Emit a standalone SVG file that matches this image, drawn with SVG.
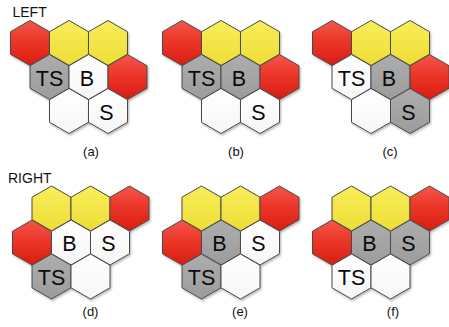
<svg xmlns="http://www.w3.org/2000/svg" xmlns:xlink="http://www.w3.org/1999/xlink" width="449" height="327" viewBox="0 0 449 327">
<style>
.hx{stroke:#4a4a4a;stroke-width:1;stroke-linejoin:round;filter:url(#sh)}
.r{fill:url(#gr)}
.y{fill:url(#gy)}
.g{fill:url(#gg)}
.w{fill:url(#gw)}
.t{font-family:"Liberation Sans",Arial,sans-serif;font-size:21.5px;fill:#0a0a0a;text-anchor:middle}
.h{font-family:"Liberation Sans",Arial,sans-serif;font-size:14px;fill:#111}
.c{font-family:"Liberation Sans",Arial,sans-serif;font-size:13px;fill:#111;text-anchor:middle}
</style>
<defs>
<polygon id="hex" points="0,-22.5 19.5,-11.25 19.5,11.25 0,22.5 -19.5,11.25 -19.5,-11.25"/>
<linearGradient id="gr" x1="0" y1="0" x2="0" y2="1"><stop offset="0" stop-color="#f4564a"/><stop offset="0.5" stop-color="#ea3426"/><stop offset="1" stop-color="#da1c12"/></linearGradient>
<linearGradient id="gy" x1="0" y1="0" x2="0" y2="1"><stop offset="0" stop-color="#f8ee5a"/><stop offset="1" stop-color="#eedd36"/></linearGradient>
<linearGradient id="gg" x1="0" y1="0" x2="0" y2="1"><stop offset="0" stop-color="#adadad"/><stop offset="1" stop-color="#9c9c9c"/></linearGradient>
<linearGradient id="gw" x1="0" y1="0" x2="0" y2="1"><stop offset="0" stop-color="#ffffff"/><stop offset="1" stop-color="#f6f6f6"/></linearGradient>
<filter id="sh" x="-20%" y="-20%" width="150%" height="150%"><feDropShadow dx="1" dy="1.5" stdDeviation="1.2" flood-color="#000" flood-opacity="0.3"/></filter>
</defs>
<rect width="449" height="327" fill="#fff"/>
<text class="h" x="12.5" y="17">LEFT</text>
<text class="h" x="8" y="182.5">RIGHT</text>

<g id="panel-a">
<g id="a-r1"><use href="#hex" class="hx r" x="30" y="43"/></g>
<g id="a-y1"><use href="#hex" class="hx y" x="69" y="43"/></g>
<g id="a-y2"><use href="#hex" class="hx y" x="108" y="43"/></g>
<g id="a-ts"><use href="#hex" class="hx g" x="49.5" y="77"/><text class="t" x="49.5" y="85.5">TS</text></g>
<g id="a-b"><use href="#hex" class="hx w" x="88.5" y="77"/><text class="t" x="87" y="85.5">B</text></g>
<g id="a-r2"><use href="#hex" class="hx r" x="127.5" y="77"/></g>
<g id="a-e"><use href="#hex" class="hx w" x="69" y="111"/></g>
<g id="a-s"><use href="#hex" class="hx w" x="108" y="111"/><text class="t" x="106.5" y="119.5">S</text></g>
<text class="c" x="91" y="155.5">(a)</text>
</g>

<g id="panel-b">
<g id="b-r1"><use href="#hex" class="hx r" x="182" y="43"/></g>
<g id="b-y1"><use href="#hex" class="hx y" x="221" y="43"/></g>
<g id="b-y2"><use href="#hex" class="hx y" x="260" y="43"/></g>
<g id="b-ts"><use href="#hex" class="hx g" x="201.5" y="77"/><text class="t" x="201.5" y="85.5">TS</text></g>
<g id="b-b"><use href="#hex" class="hx g" x="240.5" y="77"/><text class="t" x="239" y="85.5">B</text></g>
<g id="b-r2"><use href="#hex" class="hx r" x="279.5" y="77"/></g>
<g id="b-e"><use href="#hex" class="hx w" x="221" y="111"/></g>
<g id="b-s"><use href="#hex" class="hx w" x="260" y="111"/><text class="t" x="258.5" y="119.5">S</text></g>
<text class="c" x="236" y="155.5">(b)</text>
</g>

<g id="panel-c">
<g id="c-r1"><use href="#hex" class="hx r" x="332" y="43"/></g>
<g id="c-y1"><use href="#hex" class="hx y" x="371" y="43"/></g>
<g id="c-y2"><use href="#hex" class="hx y" x="410" y="43"/></g>
<g id="c-ts"><use href="#hex" class="hx w" x="351.5" y="77"/><text class="t" x="351.5" y="85.5">TS</text></g>
<g id="c-b"><use href="#hex" class="hx g" x="390.5" y="77"/><text class="t" x="389" y="85.5">B</text></g>
<g id="c-r2"><use href="#hex" class="hx r" x="429.5" y="77"/></g>
<g id="c-e"><use href="#hex" class="hx w" x="371" y="111"/></g>
<g id="c-s"><use href="#hex" class="hx g" x="410" y="111"/><text class="t" x="408.5" y="119.5">S</text></g>
<text class="c" x="390" y="155.5">(c)</text>
</g>

<g id="panel-d">
<g id="d-y1"><use href="#hex" class="hx y" x="51.5" y="208.5"/></g>
<g id="d-y2"><use href="#hex" class="hx y" x="90.5" y="208.5"/></g>
<g id="d-r1"><use href="#hex" class="hx r" x="129.5" y="208.5"/></g>
<g id="d-r2"><use href="#hex" class="hx r" x="32" y="242.5"/></g>
<g id="d-b"><use href="#hex" class="hx w" x="71" y="242.5"/><text class="t" x="69.5" y="251">B</text></g>
<g id="d-s"><use href="#hex" class="hx w" x="110" y="242.5"/><text class="t" x="108.5" y="251">S</text></g>
<g id="d-ts"><use href="#hex" class="hx g" x="51.5" y="276.5"/><text class="t" x="51.5" y="285">TS</text></g>
<g id="d-e"><use href="#hex" class="hx w" x="90.5" y="276.5"/></g>
<text class="c" x="90.5" y="315.5">(d)</text>
</g>

<g id="panel-e">
<g id="e-y1"><use href="#hex" class="hx y" x="201.5" y="208.5"/></g>
<g id="e-y2"><use href="#hex" class="hx y" x="240.5" y="208.5"/></g>
<g id="e-r1"><use href="#hex" class="hx r" x="279.5" y="208.5"/></g>
<g id="e-r2"><use href="#hex" class="hx r" x="182" y="242.5"/></g>
<g id="e-b"><use href="#hex" class="hx g" x="221" y="242.5"/><text class="t" x="219.5" y="251">B</text></g>
<g id="e-s"><use href="#hex" class="hx w" x="260" y="242.5"/><text class="t" x="258.5" y="251">S</text></g>
<g id="e-ts"><use href="#hex" class="hx g" x="201.5" y="276.5"/><text class="t" x="201.5" y="285">TS</text></g>
<g id="e-e"><use href="#hex" class="hx w" x="240.5" y="276.5"/></g>
<text class="c" x="240" y="315.5">(e)</text>
</g>

<g id="panel-f">
<g id="f-y1"><use href="#hex" class="hx y" x="351.5" y="208.5"/></g>
<g id="f-y2"><use href="#hex" class="hx y" x="390.5" y="208.5"/></g>
<g id="f-r1"><use href="#hex" class="hx r" x="429.5" y="208.5"/></g>
<g id="f-r2"><use href="#hex" class="hx r" x="332" y="242.5"/></g>
<g id="f-b"><use href="#hex" class="hx g" x="371" y="242.5"/><text class="t" x="369.5" y="251">B</text></g>
<g id="f-s"><use href="#hex" class="hx g" x="410" y="242.5"/><text class="t" x="408.5" y="251">S</text></g>
<g id="f-ts"><use href="#hex" class="hx w" x="351.5" y="276.5"/><text class="t" x="351.5" y="285">TS</text></g>
<g id="f-e"><use href="#hex" class="hx w" x="390.5" y="276.5"/></g>
<text class="c" x="393" y="315.5">(f)</text>
</g>

<g id="connectors"/>
</svg>
